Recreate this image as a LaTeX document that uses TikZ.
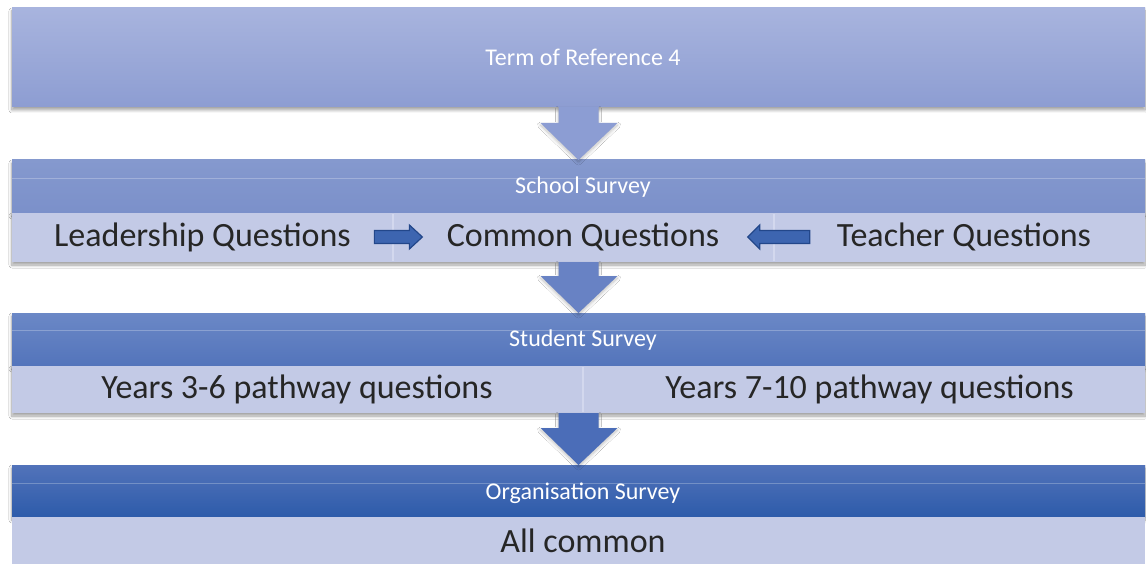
\documentclass[tikz,border=0pt]{standalone}
\usepackage{fontspec}
\setmainfont{Carlito}
\usetikzlibrary{calc,shadows.blur}

\definecolor{boxA}{HTML}{A8B4DE}
\definecolor{boxAb}{HTML}{8D9DD2}
\definecolor{hdrB}{HTML}{8599CE}
\definecolor{hdrBb}{HTML}{7B90CA}
\definecolor{hdrC}{HTML}{6B88C6}
\definecolor{hdrCb}{HTML}{5374BB}
\definecolor{hdrD}{HTML}{5273BA}
\definecolor{hdrDb}{HTML}{2D5BAA}
\definecolor{bodyL}{HTML}{C3CAE6}
\definecolor{sepL}{HTML}{D3D8EE}
\definecolor{txtD}{HTML}{262626}
\definecolor{arrA}{HTML}{8C9DD3}
\definecolor{arrB}{HTML}{6882C4}
\definecolor{arrC}{HTML}{4B6DB8}
\definecolor{sideArr}{HTML}{3D65B0}
\definecolor{sideArrD}{HTML}{23478A}

\tikzset{
  band/.style={rectangle, inner sep=0pt, outer sep=0pt, minimum width=1133pt, anchor=north},
  soft/.style={blur shadow={shadow xshift=0pt, shadow yshift=-3pt, shadow blur radius=3pt, shadow blur steps=10, shadow opacity=38}},
  hdrtext/.style={text=white, font=\fontsize{24}{28}\selectfont},
  bodytext/.style={text=txtD, font=\fontsize{34}{40}\selectfont},
  flowarrow/.style={blur shadow={shadow xshift=0pt, shadow yshift=-2pt, shadow blur radius=3pt, shadow blur steps=10, shadow opacity=25}},
  sidearrow/.style={fill=sideArr, draw=sideArrD, line width=1.2pt, line join=miter},
  gloss/.style={draw=white, opacity=0.25, line width=0.8pt},
  divider/.style={draw=sepL, line width=1.2pt}
}

\begin{document}
\begin{tikzpicture}[x=1pt, y=-1pt]
\useasboundingbox (0,0) rectangle (1146,564);
\clip (0,0) rectangle (1146,564);
\fill[white] (0,0) rectangle (1146,564);

% stage 1
\node[band, minimum height=99pt, top color=boxA, bottom color=boxAb, soft] (b1) at (578.5,8) {};
\node[hdrtext] (t1) at (583,57) {Term of Reference 4};

% stage 2
\node[band, minimum height=53pt, top color=hdrB, bottom color=hdrBb, soft] (h2) at (578.5,160) {};
\node[band, minimum height=49pt, fill=bodyL, soft] (b2) at (578.5,213) {};
\draw[gloss] ($(h2.north west)+(0,18)$) -- ($(h2.north east)+(0,18)$);
\draw[divider] (393,214) -- (393,261);
\draw[divider] (774,214) -- (774,261);
\node[hdrtext] (t2) at (583,187) {School Survey};
\node[bodytext] (lq) at (202.5,237) {Leadership Questions};
\node[bodytext] (cq) at (583,237) {Common Questions};
\node[bodytext] (tq) at (964,237) {Teacher Questions};

% stage 3
\node[band, minimum height=53pt, top color=hdrC, bottom color=hdrCb, soft] (h3) at (578.5,313) {};
\node[band, minimum height=47pt, fill=bodyL, soft] (b3) at (578.5,366) {};
\draw[gloss] ($(h3.north west)+(0,17)$) -- ($(h3.north east)+(0,17)$);
\draw[divider] (583,367) -- (583,412);
\node[hdrtext] (t3) at (583,340) {Student Survey};
\node[bodytext] (y1) at (297,389) {Years 3-6 pathway questions};
\node[bodytext] (y2) at (869.5,389) {Years 7-10 pathway questions};

% stage 4
\node[band, minimum height=52pt, top color=hdrD, bottom color=hdrDb, soft] (h4) at (578.5,465) {};
\node[band, minimum height=52pt, fill=bodyL] (b4) at (578.5,517) {};
\draw[gloss] ($(h4.north west)+(0,18)$) -- ($(h4.north east)+(0,18)$);
\node[hdrtext] (t4) at (583,493) {Organisation Survey};
\node[bodytext] (ac) at (583,541) {All common};

% downward block arrows between stages
\foreach \src/\dst/\col in {b1/h2/arrA, b2/h3/arrB, b3/h4/arrC}{
  \fill[\col, flowarrow]
    ($(\src.south)+(-20,0)$) -- ($(\src.south)+(20,0)$)
    -- ($(\dst.north)+(20,-37)$) -- ($(\dst.north)+(39,-37)$)
    -- (\dst.north)
    -- ($(\dst.north)+(-38,-37)$) -- ($(\dst.north)+(-20,-37)$) -- cycle;
}

% side arrows pointing to the common questions
\coordinate (ra) at ($(lq.east)+(20,0)$);
\draw[sidearrow] (ra) ++(0,-6.5) -- ++(35,0) -- ++(0,-5.5) -- ++(13,12) -- ++(-13,12) -- ++(0,-5.5) -- ++(-35,0) -- cycle;
\coordinate (la) at ($(cq.east)+(25,0)$);
\draw[sidearrow] (la) -- ++(12,-12) -- ++(0,5.5) -- ++(50,0) -- ++(0,13) -- ++(-50,0) -- ++(0,5.5) -- cycle;
\end{tikzpicture}
\end{document}
